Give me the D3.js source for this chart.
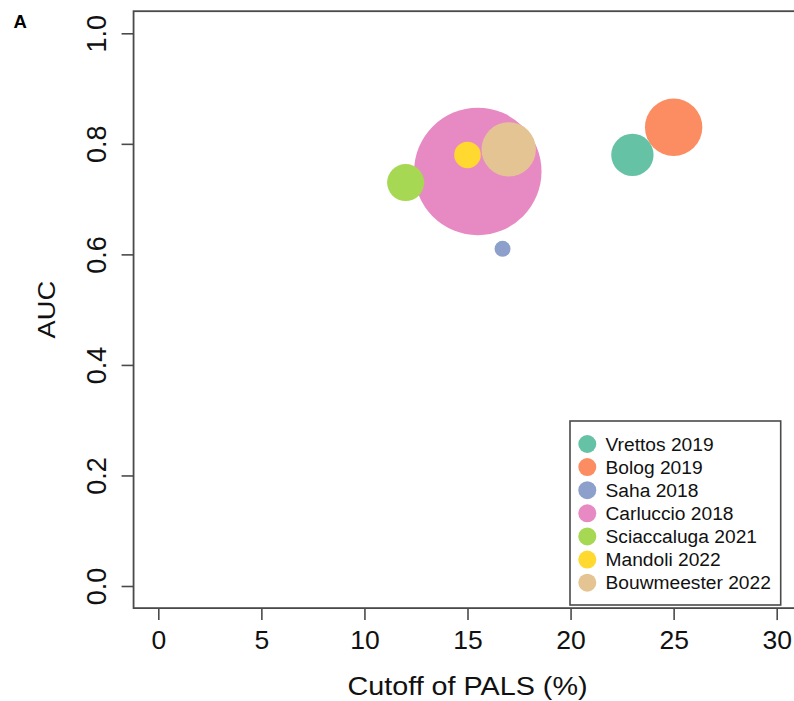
<!DOCTYPE html>
<html>
<head>
<meta charset="utf-8">
<script src="https://cdn.jsdelivr.net/npm/d3@7"></script>
<style>
  html, body { margin: 0; padding: 0; background: #fff; }
  svg { display: block; font-family: "Liberation Sans", Arial, Helvetica, sans-serif; }
</style>
</head>
<body>
<svg id="chart" width="794" height="701"></svg>
<script>
// ---- data ----
const studies = ["Vrettos 2019", "Bolog 2019", "Saha 2018", "Carluccio 2018", "Sciaccaluga 2021", "Mandoli 2022", "Bouwmeester 2022"];
const cutoff  = [23, 25, 16.7, 15.5, 12, 15, 17];          // Cutoff of PALS (%)
const auc     = [0.78, 0.83, 0.61, 0.75, 0.73, 0.78, 0.79];
const sampleSize = [112, 206, 16, 1015, 86, 44, 185];      // bubble size
const colors  = ["#66C2A5", "#FC8D62", "#8DA0CB", "#E78AC3", "#A6D854", "#FFD92F", "#E5C494"];
const xTicks  = [0, 5, 10, 15, 20, 25, 30];
const yTicks  = [0.0, 0.2, 0.4, 0.6, 0.8, 1.0];

const svg = d3.select("#chart");
const ink = "#4a4a4a";

const x = d3.scaleLinear().domain([0, 30]).range([158.3, 776.7]);
const y = d3.scaleLinear().domain([0, 1]).range([586, 33.3]);
const r = d3.scaleSqrt().domain([0, d3.max(sampleSize)]).range([0, 63.7]);

// plot frame (R-style 4% expansion)
const x0 = x(-1.2), x1 = x(31.2), y0 = y(-0.04), y1 = y(1.04);

// bubbles (largest first)
const pts = studies.map((s, i) => ({ s, cx: cutoff[i], cy: auc[i], n: sampleSize[i], c: colors[i] }));
const order = pts.slice().sort((a, b) => b.n - a.n);
svg.append("g").selectAll("circle").data(order).join("circle")
  .attr("cx", d => x(d.cx)).attr("cy", d => y(d.cy)).attr("r", d => r(d.n))
  .attr("fill", d => d.c);

// frame
svg.append("rect").attr("x", x0).attr("y", y1).attr("width", x1 - x0).attr("height", y0 - y1)
  .attr("fill", "none").attr("stroke", ink).attr("stroke-width", 1.8);

// x axis
const xAxis = d3.axisBottom(x).tickValues(xTicks).tickSize(12).tickPadding(10).tickFormat(d3.format("d"));
const gx = svg.append("g").attr("transform", `translate(0,${y0})`).call(xAxis);
gx.select(".domain").remove();
gx.selectAll(".tick line").attr("stroke", ink).attr("stroke-width", 1.6);
gx.selectAll(".tick text").attr("fill", "#111").attr("font-size", 26.5)
  .attr("font-family", "Liberation Sans, Arial, sans-serif");

// y axis
const yAxis = d3.axisLeft(y).tickValues(yTicks).tickSize(12).tickFormat(d3.format(".1f"));
const gy = svg.append("g").attr("transform", `translate(${x0},0)`).call(yAxis);
gy.select(".domain").remove();
gy.selectAll(".tick line").attr("stroke", ink).attr("stroke-width", 1.6);
gy.selectAll(".tick text")
  .attr("x", null).attr("dy", null)
  .attr("transform", `translate(${106 - x0},0) rotate(-90)`)
  .attr("text-anchor", "middle")
  .attr("fill", "#111").attr("font-size", 27)
  .attr("font-family", "Liberation Sans, Arial, sans-serif");

// axis titles
svg.append("text").attr("x", (x0 + x1) / 2).attr("y", 694.5).attr("text-anchor", "middle")
  .attr("font-size", 25).attr("fill", "#111")
  .attr("textLength", 240).attr("lengthAdjust", "spacingAndGlyphs")
  .text("Cutoff of PALS (%)");
svg.append("text").attr("transform", `translate(55,${(y0 + y1) / 2}) rotate(-90)`)
  .attr("text-anchor", "middle").attr("font-size", 24).attr("fill", "#111")
  .attr("textLength", 57.5).attr("lengthAdjust", "spacingAndGlyphs")
  .text("AUC");

// panel label
svg.append("text").attr("x", 13.5).attr("y", 28.3).attr("font-size", 18.5).attr("font-weight", "bold")
  .attr("fill", "#000").text("A");

// legend
const lg = svg.append("g");
lg.append("rect").attr("x", 570).attr("y", 421).attr("width", 210.7).attr("height", 184)
  .attr("fill", "#fff").attr("stroke", ink).attr("stroke-width", 1.6);
const rowY = d3.scalePoint().domain(studies).range([444, 582.7]);
const items = lg.selectAll("g.item").data(pts).join("g").attr("class", "item")
  .attr("transform", d => `translate(0,${rowY(d.s)})`);
items.append("circle").attr("cx", 587.3).attr("cy", 0).attr("r", 9).attr("fill", d => d.c);
items.append("text").attr("x", 605.5).attr("y", 6.5).attr("font-size", 19.2).attr("fill", "#111")
  .text(d => d.s);
</script>
</body>
</html>
